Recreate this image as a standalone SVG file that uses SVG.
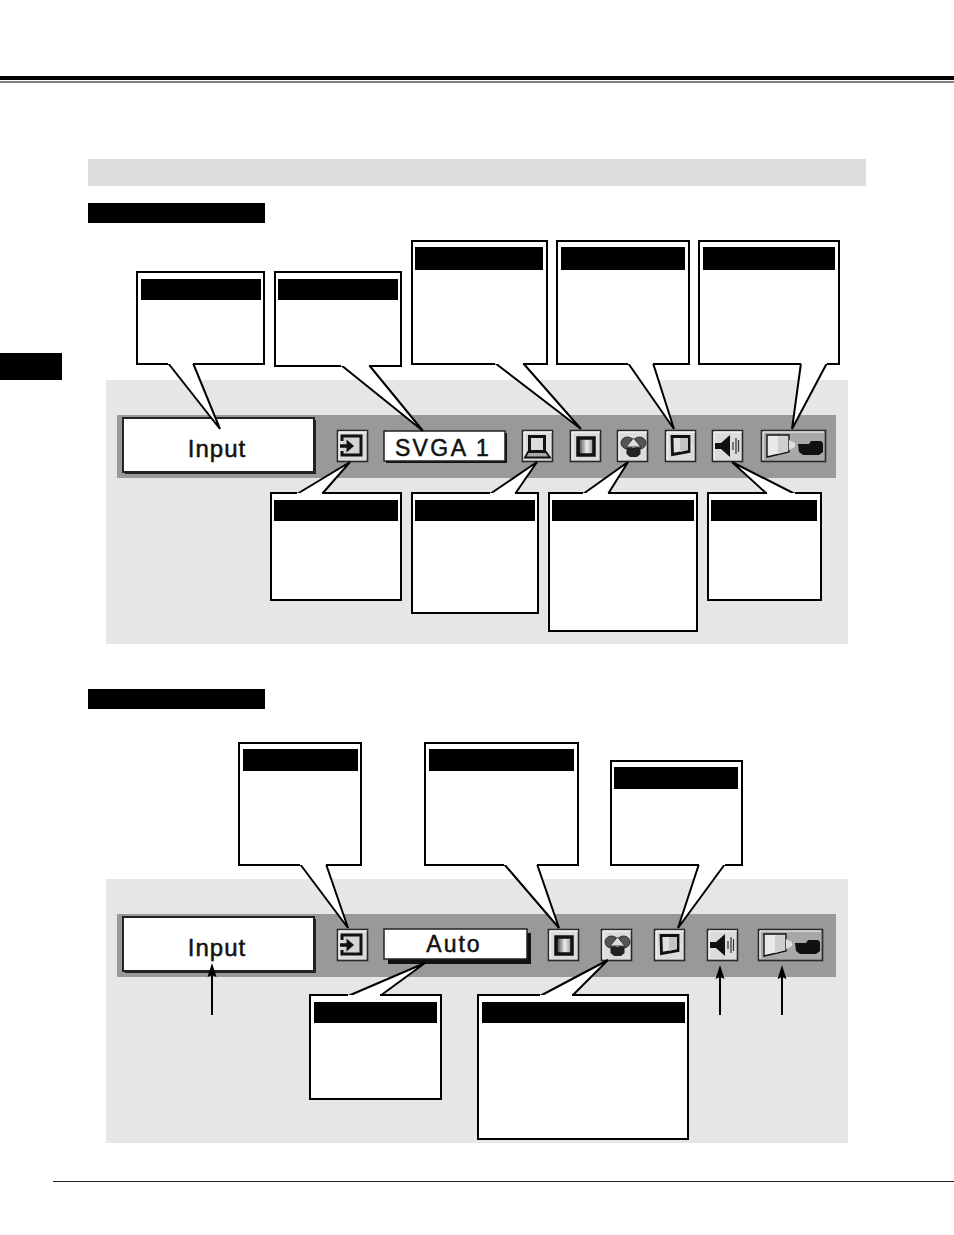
<svg xmlns="http://www.w3.org/2000/svg" width="954" height="1235" viewBox="0 0 954 1235">
<style>
.box{fill:#fff;stroke:#000;stroke-width:2}
.hd{fill:#000}
.tail{fill:#fff;stroke:#000;stroke-width:2;stroke-linejoin:miter;stroke-miterlimit:4}
.btn{fill:#dcdcdc;stroke:#2a2a2a;stroke-width:1.6}
.lbl{font-family:"Liberation Sans",Arial,sans-serif;font-size:24px;fill:#111;stroke:#111;stroke-width:.5;text-anchor:middle}
.arr{stroke:#000;stroke-width:2;fill:none}
.head{fill:#000}
</style>
<defs>
<linearGradient id="gr"><stop offset="0" stop-color="#333"/><stop offset=".55" stop-color="#eee"/><stop offset="1" stop-color="#888"/></linearGradient>
<g id="b"><rect class="btn" x="0.5" y="0.5" width="30" height="31"/><path d="M2 30V2H30" fill="none" stroke="#fff" stroke-width="1"/></g>
<g id="i-input"><use href="#b"/><rect x="6" y="6" width="18" height="19" fill="#d4d4d4"/><path d="M5 11V6H24V25H5V21" fill="none" stroke="#111" stroke-width="3"/><path d="M3 16H11" stroke="#111" stroke-width="3.5"/><path d="M9.500 9.500L17 16L9.500 22.500Z" fill="#111"/></g>
<g id="i-pc"><use href="#b"/><rect x="7.500" y="6.500" width="15" height="15" fill="#dcdcdc" stroke="#111" stroke-width="3"/><path d="M6 22H24L28 27.500H3Z" fill="#aaa" stroke="#111" stroke-width="1.800"/></g>
<g id="i-img"><use href="#b"/><rect x="8" y="8" width="16" height="17" fill="url(#gr)" stroke="#111" stroke-width="3.500"/></g>
<g id="i-col"><use href="#b"/><ellipse cx="10.500" cy="13" rx="6.500" ry="6" fill="#555" stroke="#333"/><ellipse cx="22.500" cy="13" rx="6.500" ry="6" fill="#555" stroke="#333"/><path d="M16.500 8L24 17H9Z" fill="#ddd" stroke="#333"/><path d="M9.500 18H23.500V24L20 27H13L9.500 24Z" fill="#222"/></g>
<g id="i-scr"><use href="#b"/><path d="M21 12L29 17L21 21Z" fill="#e6e6e6"/><path d="M7 6.500H24V21.500L7.500 24.500Z" fill="#e0e0e0" stroke="#111" stroke-width="2.800"/><path d="M15 8H23V20L15 22Z" fill="#c4c4c4"/></g>
<g id="i-snd"><use href="#b"/><path d="M3 13H9L18 5V27L9 19H3Z" fill="#111"/><path d="M21 12V20M24 8V24M26.500 10V22" stroke="#333" stroke-width="1.200" fill="none"/></g>
<g id="i-cam"><rect x="0.500" y="0.500" width="64" height="31" fill="#a8a8a8" stroke="#2a2a2a" stroke-width="1.600"/><path d="M2 30V2H63" fill="none" stroke="#fff"/><path d="M6 5H28V22L6 27Z" fill="#e8e8e8" stroke="#111" stroke-width="1.400"/><path d="M17 6H27V21L17 24Z" fill="#cfcfcf"/><path d="M28 10L34 13V17L28 20Z" fill="#ddd"/><path d="M37 14H48L50 11H60L62 13V22L58 25H42L38 22Z" fill="#111"/></g>
</defs>

<g id="page-rules"><rect x="0" y="76" width="954" height="4" fill="#000"/><rect x="0" y="81.500" width="954" height="1" fill="#000"/><rect x="53" y="1181" width="901" height="1" fill="#222"/></g>
<rect id="side-tab" x="0" y="353" width="62" height="27" fill="#000"/>
<rect id="title-band" x="88" y="159" width="778" height="27" fill="#ddd"/>
<rect id="head-1" x="88" y="203" width="177" height="20" fill="#000"/>
<rect id="head-2" x="88" y="689" width="177" height="20" fill="#000"/>

<g id="panel-1">
<rect x="106" y="380" width="742" height="264" fill="#e6e6e6"/>
<rect x="117" y="415" width="719" height="63" fill="#999"/>
<g id="input-1"><rect x="125" y="420" width="191" height="54" fill="#222"/><rect x="123" y="418" width="191" height="54" fill="#fff" stroke="#222" stroke-width="2"/><text class="lbl" x="217" y="457" letter-spacing="1">Input</text></g>
<use href="#i-input" x="337" y="430"/>
<g id="svga"><rect x="386" y="433" width="121" height="30" fill="#111"/><rect x="384" y="431" width="121" height="30" fill="#fff" stroke="#222" stroke-width="1.500"/><text class="lbl" x="443" y="456" font-size="23" style="font-size:23px" letter-spacing="2.400">SVGA 1</text></g>
<use href="#i-pc" x="522" y="430"/>
<use href="#i-img" x="570" y="430"/>
<use href="#i-col" x="617" y="430"/>
<use href="#i-scr" x="665" y="430"/>
<use href="#i-snd" x="712" y="430"/>
<use href="#i-cam" x="761" y="430"/>
</g>

<g id="panel-2">
<rect x="106" y="879" width="742" height="264" fill="#e6e6e6"/>
<rect x="117" y="914" width="719" height="63" fill="#999"/>
<g id="input-2"><rect x="125" y="919" width="191" height="54" fill="#222"/><rect x="123" y="917" width="191" height="54" fill="#fff" stroke="#222" stroke-width="2"/><text class="lbl" x="217" y="956" letter-spacing="1">Input</text></g>
<use href="#i-input" x="337" y="929"/>
<g id="auto"><rect x="388" y="933" width="143" height="31" fill="#111"/><rect x="384" y="929" width="143" height="30" fill="#fff" stroke="#222" stroke-width="1.500"/><text class="lbl" x="454" y="952" style="font-size:23px" letter-spacing="2">Auto</text></g>
<use href="#i-img" x="548" y="929"/>
<use href="#i-col" x="601" y="929"/>
<use href="#i-scr" x="654" y="929"/>
<use href="#i-snd" x="707" y="929"/>
<use href="#i-cam" x="758" y="929"/>
</g>

<g id="connectors">
<path class="tail" d="M168 363L220 429L193 363"/>
<path class="tail" d="M341 365L423 431L369 365"/>
<path class="tail" d="M495 363L581 429L523 363"/>
<path class="tail" d="M628 363L674 429L653 363"/>
<path class="tail" d="M801 363L792 429L827 363"/>
<path class="tail" d="M297 494L350 462L322 494"/>
<path class="tail" d="M490 494L537 462L515 494"/>
<path class="tail" d="M583 494L628 462L608 494"/>
<path class="tail" d="M767 494L732 462L795 494"/>
<path class="tail" d="M300 864L348 928L326 864"/>
<path class="tail" d="M504 864L559 928L537 864"/>
<path class="tail" d="M699 864L678 928L725 864"/>
<path class="tail" d="M348 996L425 963L380 996"/>
<path class="tail" d="M540 996L608 960L572 996"/>
<path class="arr" d="M212 1015V972"/><path class="head" d="M212 963L216.500 977L212 975L207.500 977Z"/>
<path class="arr" d="M720 1015V974"/><path class="head" d="M720 965L724.500 979L720 977L715.500 979Z"/>
<path class="arr" d="M782 1015V974"/><path class="head" d="M782 965L786.500 979L782 977L777.500 979Z"/>
</g>

<g id="c1"><path class="box" d="M168 364H137V272H264V364H193"/><rect class="hd" x="141" y="279" width="120" height="21"/></g>
<g id="c2"><path class="box" d="M341 366H275V272H401V366H369"/><rect class="hd" x="278" y="279" width="120" height="21"/></g>
<g id="c3"><path class="box" d="M495 364H412V241H547V364H523"/><rect class="hd" x="415" y="247" width="128" height="23"/></g>
<g id="c4"><path class="box" d="M628 364H557V241H689V364H653"/><rect class="hd" x="561" y="247" width="124" height="23"/></g>
<g id="c5"><path class="box" d="M801 364H699V241H839V364H827"/><rect class="hd" x="703" y="247" width="132" height="23"/></g>
<g id="c6"><path class="box" d="M297 493H271V600H401V493H322"/><rect class="hd" x="274" y="500" width="124" height="21"/></g>
<g id="c7"><path class="box" d="M490 493H412V613H538V493H515"/><rect class="hd" x="415" y="500" width="120" height="21"/></g>
<g id="c8"><path class="box" d="M583 493H549V631H697V493H608"/><rect class="hd" x="552" y="500" width="142" height="21"/></g>
<g id="c9"><path class="box" d="M767 493H708V600H821V493H795"/><rect class="hd" x="711" y="500" width="106" height="21"/></g>
<g id="c10"><path class="box" d="M300 865H239V743H361V865H326"/><rect class="hd" x="243" y="749" width="115" height="22"/></g>
<g id="c11"><path class="box" d="M504 865H425V743H578V865H537"/><rect class="hd" x="429" y="749" width="145" height="22"/></g>
<g id="c12"><path class="box" d="M699 865H611V761H742V865H725"/><rect class="hd" x="614" y="767" width="124" height="22"/></g>
<g id="c13"><path class="box" d="M348 995H310V1099H441V995H380"/><rect class="hd" x="314" y="1002" width="123" height="21"/></g>
<g id="c14"><path class="box" d="M540 995H478V1139H688V995H572"/><rect class="hd" x="482" y="1002" width="203" height="21"/></g>
</svg>
